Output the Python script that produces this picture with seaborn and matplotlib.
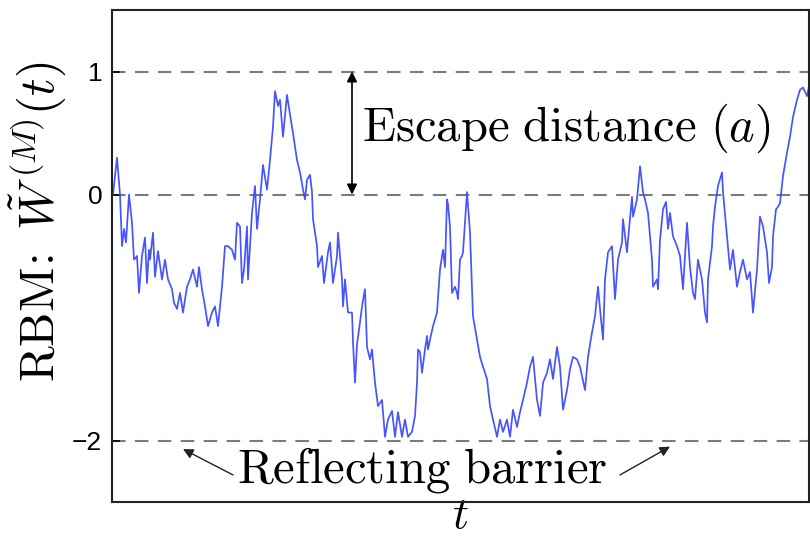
import numpy as np
import pandas as pd
import matplotlib
matplotlib.use("Agg")
import matplotlib.pyplot as plt
import seaborn as sns

# Sample path of the reflected Brownian motion (time index, value)
t = [1, 5, 8, 10, 12, 14, 17, 20, 22, 25, 27, 30, 33, 35, 37, 38, 41, 43, 46, 50,
     53, 56, 60, 62, 65, 68, 71, 75, 78, 81, 85, 87, 90, 93, 96, 100, 103, 106, 110, 113,
     116, 120, 123, 125, 128, 130, 132, 135, 136, 140, 143, 145, 148, 151, 155, 158, 161, 163, 166, 168,
     171, 175, 178, 181, 183, 185, 188, 191, 193, 195, 198, 200, 201, 205, 206, 210, 212, 216, 218, 221,
     225, 226, 230, 231, 233, 236, 240, 241, 243, 245, 248, 250, 253, 255, 258, 260, 263, 266, 270, 273,
     276, 280, 283, 286, 290, 293, 296, 300, 303, 305, 306, 308, 310, 313, 315, 316, 318, 321, 325, 328,
     331, 333, 335, 336, 338, 340, 343, 345, 346, 348, 350, 351, 355, 358, 361, 365, 368, 371, 375, 378,
     381, 385, 388, 391, 395, 398, 401, 405, 408, 411, 415, 418, 421, 425, 428, 431, 435, 438, 441, 445,
     448, 451, 455, 458, 461, 465, 468, 473, 476, 480, 483, 486, 488, 491, 493, 496, 500, 503, 506, 510,
     511, 515, 516, 520, 521, 525, 528, 531, 533, 536, 540, 541, 545, 546, 548, 551, 554, 556, 558, 561,
     565, 568, 571, 575, 578, 581, 583, 586, 590, 593, 595, 596, 600, 601, 603, 606, 610, 611, 615, 616,
     618, 621, 625, 628, 631, 635, 638, 641, 645, 648, 651, 655, 657, 660, 661, 664, 666, 668, 671, 675,
     678, 681, 685, 688, 691, 695, 697]
w = [0.00, 0.30, 0.00, -0.42, -0.28, -0.39, 0.00, -0.23, -0.53, -0.50, -0.80, -0.50, -0.35, -0.72, -0.45, -0.53, -0.31, -0.67, -0.46, -0.69,
     -0.53, -0.69, -0.77, -0.88, -0.93, -0.80, -0.96, -0.75, -0.69, -0.61, -0.75, -0.59, -0.77, -0.91, -1.07, -0.96, -0.91, -1.07, -0.75, -0.42,
     -0.42, -0.45, -0.53, -0.23, -0.26, -0.72, -0.61, -0.26, -0.69, -0.15, 0.07, -0.28, -0.04, 0.24, 0.04, 0.28, 0.55, 0.84, 0.72, 0.77,
     0.47, 0.81, 0.65, 0.50, 0.39, 0.28, 0.18, 0.04, -0.04, 0.12, 0.16, 0.02, -0.20, -0.42, -0.59, -0.50, -0.72, -0.47, -0.39, -0.72,
     -0.50, -0.31, -0.69, -0.91, -0.69, -0.96, -0.96, -1.20, -1.53, -1.22, -1.04, -0.91, -0.77, -1.24, -1.34, -1.26, -1.53, -1.72, -1.67, -1.97,
     -1.83, -1.76, -1.97, -1.77, -1.97, -1.83, -1.97, -1.93, -1.80, -1.53, -1.26, -1.28, -1.45, -1.26, -1.15, -1.26, -1.18, -1.07, -0.96, -0.61,
     -0.45, -0.59, -0.04, -0.08, -0.26, -0.80, -0.75, -0.80, -0.85, -0.53, -0.50, -0.47, 0.02, -0.31, -0.99, -1.18, -1.32, -1.40, -1.50, -1.72,
     -1.83, -1.97, -1.83, -1.93, -1.83, -1.97, -1.75, -1.89, -1.77, -1.67, -1.53, -1.40, -1.32, -1.67, -1.80, -1.53, -1.45, -1.34, -1.50, -1.24,
     -1.40, -1.75, -1.59, -1.42, -1.32, -1.34, -1.40, -1.59, -1.32, -1.12, -0.99, -0.75, -0.93, -1.18, -0.69, -0.47, -0.42, -0.85, -0.53, -0.39,
     -0.20, -0.47, -0.37, -0.02, -0.18, -0.04, 0.23, 0.02, -0.04, -0.15, -0.53, -0.75, -0.69, -0.77, -0.37, -0.12, -0.06, -0.28, -0.15, -0.34,
     -0.42, -0.50, -0.77, -0.23, -0.59, -0.80, -0.85, -0.53, -0.69, -0.96, -1.04, -0.69, -0.42, -0.26, -0.10, 0.07, 0.18, 0.02, -0.34, -0.42,
     -0.61, -0.45, -0.75, -0.63, -0.53, -0.69, -0.63, -0.96, -0.61, -0.18, -0.26, -0.47, -0.72, -0.59, -0.34, -0.12, -0.10, -0.07, 0.15, 0.34,
     0.47, 0.63, 0.77, 0.85, 0.87, 0.80, 0.88]

# Reference levels: escape level, start level, reflecting barrier
levels = [1, 0, -2]
ytick_labels = ["1", "0", "\u22122"]

sns.set_style("white")
plt.rcParams["mathtext.fontset"] = "cm"
plt.rcParams["font.family"] = ["Liberation Sans", "DejaVu Sans"]
plt.rcParams["text.color"] = "black"
plt.rcParams["axes.labelcolor"] = "black"
plt.rcParams["ytick.color"] = "black"

fig = plt.figure(figsize=(8.10, 5.43), dpi=100)
ax = fig.add_axes([112 / 810, 41 / 543, 697 / 810, 492 / 543])

df = pd.DataFrame({"t": t, "w": w})
sns.lineplot(data=df, x="t", y="w", ax=ax, color="#3c4cff", lw=1.25, alpha=0.95)

for lv in levels:
    ax.axhline(lv, color="#7c7c7c", lw=1.5, dashes=(6.5, 4.5), zorder=0)

ax.set_xlim(0, 697)
ax.set_ylim(-2.5, 1.5)
ax.set_xticks([])
ax.set_yticks(levels)
ax.set_yticklabels(ytick_labels, fontsize=19)
ax.tick_params(axis="y", direction="in", length=6, width=1.2, pad=7, left=True)
for s in ax.spines.values():
    s.set_color("#222222")
    s.set_linewidth(1.5)

ax.set_xlabel(r"$t$", fontsize=32, labelpad=-4)
ax.set_ylabel(r"$\mathrm{RBM}\!:\ \tilde{W}^{\,(M)}(t)$", fontsize=35)
ax.yaxis.set_label_coords(-0.062, 0.57)

# Escape distance marker between level 0 and level 1
ax.annotate("", xy=(240, levels[0]), xytext=(240, levels[1]),
            arrowprops=dict(arrowstyle="<|-|>", color="black", lw=1.2,
                            mutation_scale=15, shrinkA=0, shrinkB=0))
ax.text(250, 0.54, r"$\mathrm{Escape\ distance\ }(a)$", fontsize=35,
        ha="left", va="center")

# Reflecting barrier label with pointers
ax.text(310, -2.24, r"$\mathrm{Reflecting\ barrier}$", fontsize=35,
        ha="center", va="center")
ax.annotate("", xy=(71, -2.07), xytext=(121, -2.28),
            arrowprops=dict(arrowstyle="-|>", color="#222222", lw=1.0,
                            mutation_scale=15, shrinkA=0, shrinkB=0))
ax.annotate("", xy=(558, -2.05), xytext=(508, -2.28),
            arrowprops=dict(arrowstyle="-|>", color="#222222", lw=1.0,
                            mutation_scale=15, shrinkA=0, shrinkB=0))

fig.savefig("out.png", dpi=100)
